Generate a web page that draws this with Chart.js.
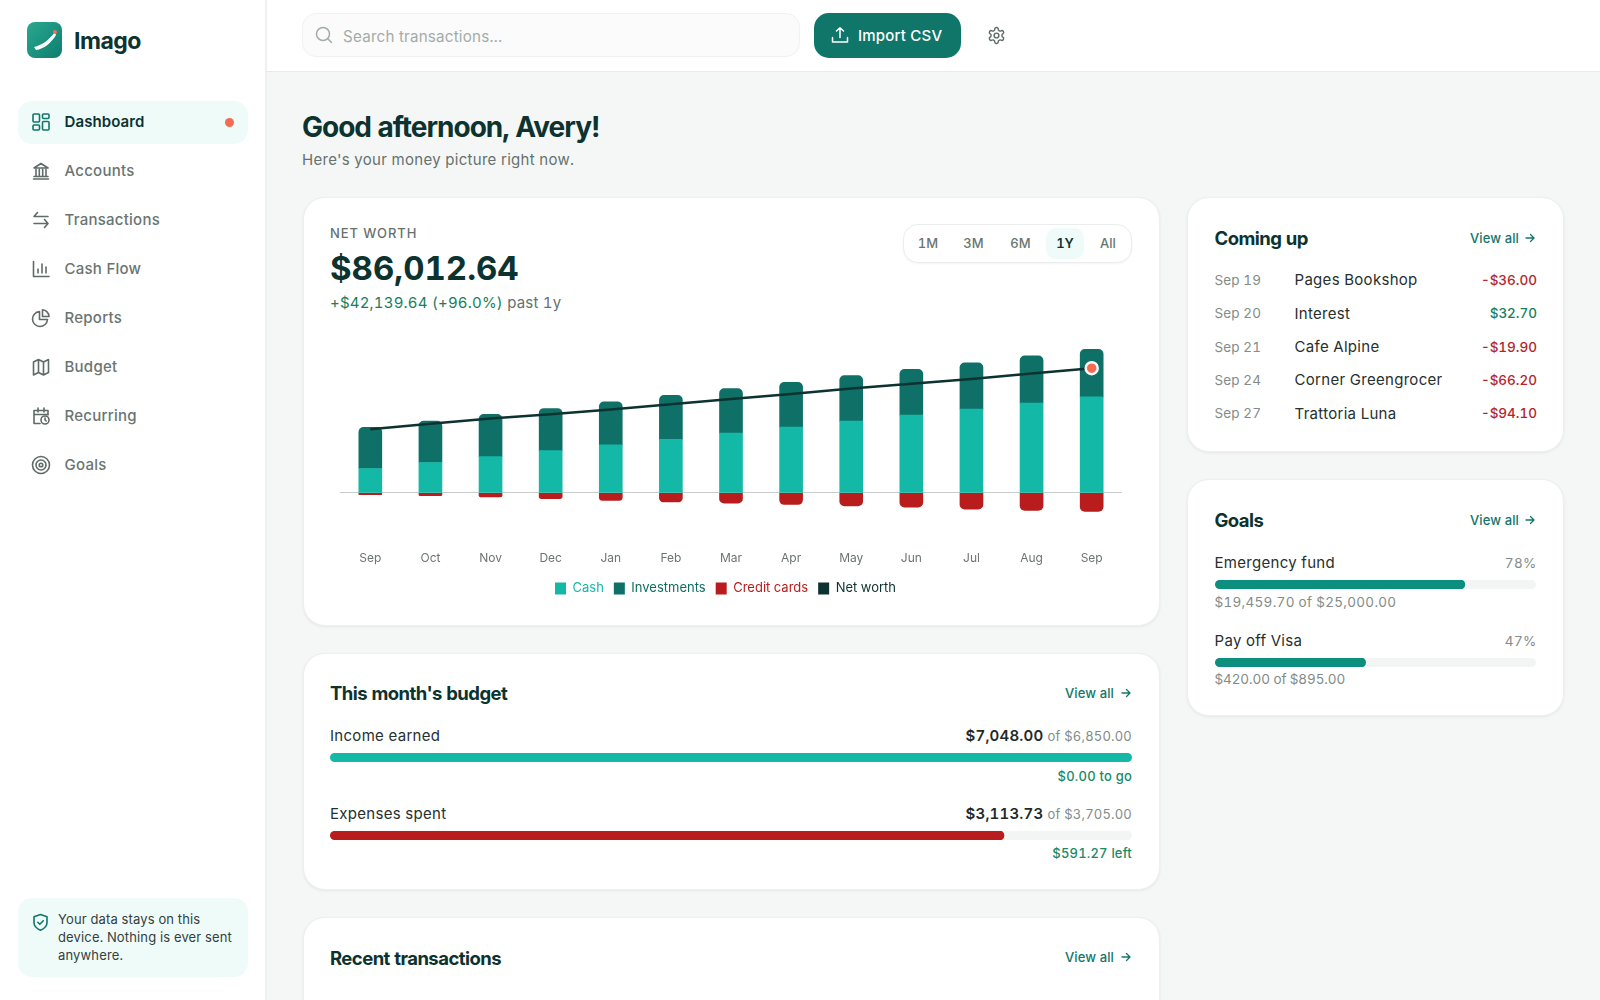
<!DOCTYPE html>
<html>
<head>
<meta charset="utf-8">
<title>Imago</title>
<script src="https://cdn.jsdelivr.net/npm/chart.js@4"></script>
<style>
  * { box-sizing: border-box; margin: 0; padding: 0; }
  html, body { width: 1600px; height: 1000px; overflow: hidden; }
  body { position: relative; background: #f5f7f6; font-family: Inter, sans-serif; font-variant-numeric: tabular-nums; color: #1f2a28; }
  .abs { position: absolute; white-space: nowrap; line-height: 1; }
  .sidebar { position: absolute; left: 0; top: 0; width: 267px; height: 1000px; background: #fff; border-right: 2px solid #eff1f0; }
  .topbar { position: absolute; left: 267px; top: 0; width: 1333px; height: 72px; background: #fff; border-bottom: 1px solid #e7eae8; }
  .card { position: absolute; background: #fff; border: 1px solid #eef0ef; border-radius: 22px; box-shadow: 0 1px 3px rgba(20, 50, 45, .08); }
  .nav { position: absolute; left: 64.5px; font-size: 15px; line-height: 18px; font-weight: 500; color: #6a7572; letter-spacing: .25px; }
  .nav-icon { position: absolute; left: 31px; width: 20px; height: 20px; fill: none; stroke: #5f6b68; stroke-width: 1.6; stroke-linecap: round; stroke-linejoin: round; }
  .title { position: absolute; font-size: 18.5px; line-height: 22px; font-weight: 700; color: #0c3330; letter-spacing: -.55px; white-space: nowrap; }
  .link { position: absolute; font-size: 13px; line-height: 16px; font-weight: 500; color: #12766a; white-space: nowrap; letter-spacing: .1px; }
  .row-date { position: absolute; left: 1214.5px; font-size: 13.5px; line-height: 16px; color: #838c89; letter-spacing: .1px; }
  .row-name { position: absolute; left: 1294.5px; font-size: 15px; line-height: 18px; color: #26302e; letter-spacing: .3px; white-space: nowrap; }
  .row-amt { position: absolute; right: 63px; font-size: 13.5px; line-height: 16px; font-weight: 500; letter-spacing: 0; }
  .neg { color: #b3262b; }
  .pos { color: #16805c; }
  .bar-track { position: absolute; background: #f3f5f4; border-radius: 5px; }
  .label { position: absolute; font-size: 15px; line-height: 18px; color: #26302e; letter-spacing: .3px; white-space: nowrap; }
  .muted { position: absolute; font-size: 13.5px; line-height: 16px; color: #838c89; letter-spacing: .3px; white-space: nowrap; }
  .green { position: absolute; right: 468px; font-size: 13px; line-height: 16px; font-weight: 500; color: #1a8a66; letter-spacing: .2px; white-space: nowrap; }
  .range { position: absolute; top: 235px; font-size: 13px; line-height: 16px; font-weight: 500; color: #6a7572; transform: translateX(-50%); }
</style>
</head>
<body>

<div class="sidebar"></div>
<div class="topbar"></div>

<!-- logo -->
<svg class="abs" style="left:27px;top:22px" width="35" height="36" viewBox="0 0 35 36">
  <defs><linearGradient id="logoFill" x1="0" y1="0" x2="1" y2="1"><stop offset="0" stop-color="#2aa98f"/><stop offset="1" stop-color="#0d7d70"/></linearGradient></defs>
  <rect width="35" height="36" rx="8" fill="url(#logoFill)"/>
  <path d="M7 25 C15 23 21 19 28 10 L29 13 C24 21 17 27 9 28 Z" fill="#fff"/>
  <circle cx="28" cy="10" r="2" fill="#f0705a"/>
</svg>
<div class="abs" style="left:74px;top:30px;font-size:23px;font-weight:700;color:#0c3330;letter-spacing:-.5px">Imago</div>

<!-- nav -->
<div class="abs" style="left:18px;top:101px;width:230px;height:43px;background:#effbf9;border-radius:14px"></div>
<div class="abs" style="left:225px;top:117.5px;width:9px;height:9px;background:#f76a52;border-radius:50%"></div>

<svg class="nav-icon" style="top:112px;stroke:#12766a" viewBox="0 0 20 20"><rect x="2" y="2" width="6.5" height="8" rx="1"/><rect x="11.5" y="2" width="6.5" height="4.5" rx="1"/><rect x="2" y="13" width="6.5" height="5" rx="1"/><rect x="11.5" y="9.5" width="6.5" height="8.5" rx="1"/></svg>
<div class="nav" style="top:113px;color:#0c3330;font-weight:600;letter-spacing:.1px">Dashboard</div>

<svg class="nav-icon" style="top:161px" viewBox="0 0 20 20"><path d="M2.5 18h15M3 15.5h14M5 8.5v7M8.3 8.5v7M11.7 8.5v7M15 8.5v7M3 7l7-4.5L17 7z"/></svg>
<div class="nav" style="top:162px">Accounts</div>

<svg class="nav-icon" style="top:210px" viewBox="0 0 20 20"><path d="M3 6.5h14M6.5 2.5L3 6.5M3 13.5h14M13.5 9.5l3.5 4-3.5 4"/></svg>
<div class="nav" style="top:211px">Transactions</div>

<svg class="nav-icon" style="top:259px" viewBox="0 0 20 20"><path d="M2.5 2.5V17.5H18M7 14v-4M11 14V5M15 14V8"/></svg>
<div class="nav" style="top:260px">Cash Flow</div>

<svg class="nav-icon" style="top:308px" viewBox="0 0 20 20"><path d="M8.5 3.5a7.5 7.5 0 1 0 8 8H8.5z"/><path d="M11.5 1.8a7 7 0 0 1 6.5 6.7h-6.5z"/></svg>
<div class="nav" style="top:309px">Reports</div>

<svg class="nav-icon" style="top:357px" viewBox="0 0 20 20"><path d="M2.5 5l5-2.5 5 2.5 5-2.5v13l-5 2.5-5-2.5-5 2.5zM7.5 2.5v13M12.5 5v13"/></svg>
<div class="nav" style="top:358px">Budget</div>

<svg class="nav-icon" style="top:406px" viewBox="0 0 20 20"><path d="M9 17.5H3V4.5h14V9M3 8.5h14M7 2v4M13 2v4"/><circle cx="14" cy="14" r="4"/><path d="M14 12v2l1.2 1"/></svg>
<div class="nav" style="top:407px">Recurring</div>

<svg class="nav-icon" style="top:455px" viewBox="0 0 20 20"><circle cx="10" cy="10" r="8.5"/><circle cx="10" cy="10" r="5"/><circle cx="10" cy="10" r="1.8"/></svg>
<div class="nav" style="top:456px">Goals</div>

<!-- privacy note -->
<div class="abs" style="left:18px;top:898px;width:230px;height:79px;background:#effbf9;border-radius:14px"></div>
<svg class="abs" style="left:32px;top:913px" width="17" height="19" viewBox="0 0 17 19" fill="none" stroke="#12766a" stroke-width="1.6" stroke-linecap="round" stroke-linejoin="round"><path d="M8.5 1.5l6.5 2.3v6c0 3.5-3 6-6.5 7.5C5 15.8 2 13.3 2 9.8v-6z"/><path d="M5.8 9.3l2 2 3.5-3.5"/></svg>
<div class="abs" style="left:58px;top:911px;font-size:13px;line-height:17.8px;color:#33413e;letter-spacing:.15px">Your data stays on this<br>device. Nothing is ever sent<br>anywhere.</div>

<!-- top bar -->
<div class="abs" style="left:302px;top:13px;width:498px;height:44px;background:#fafbfa;border:1px solid #f0f2f1;border-radius:14px"></div>
<svg class="abs" style="left:315px;top:26px" width="18" height="18" viewBox="0 0 18 18" fill="none" stroke="#a4acaa" stroke-width="1.5" stroke-linecap="round"><circle cx="8" cy="8" r="6.5"/><path d="M13 13l3.5 3.5"/></svg>
<div class="abs" style="left:343px;top:29px;font-size:15.2px;color:#a4acaa;letter-spacing:.2px">Search transactions...</div>
<div class="abs" style="left:813.5px;top:13px;width:147.5px;height:45px;background:#10766a;border-radius:15px"></div>
<svg class="abs" style="left:831px;top:26px" width="18" height="18" viewBox="0 0 18 18" fill="none" stroke="#fff" stroke-width="1.5" stroke-linecap="round" stroke-linejoin="round"><path d="M9 11.5V2M5.5 5L9 1.8 12.5 5M1.5 11.5v4.5h15v-4.5"/></svg>
<div class="abs" style="left:858px;top:28px;font-size:15px;font-weight:500;color:#fff;letter-spacing:.2px">Import CSV</div>
<svg class="abs" style="left:987px;top:26px" width="19" height="19" viewBox="0 0 24 24" fill="none" stroke="#5f6b68" stroke-width="1.8" stroke-linecap="round" stroke-linejoin="round"><path d="M12.22 2h-.44a2 2 0 0 0-2 2v.18a2 2 0 0 1-1 1.73l-.43.25a2 2 0 0 1-2 0l-.15-.08a2 2 0 0 0-2.73.73l-.22.38a2 2 0 0 0 .73 2.73l.15.1a2 2 0 0 1 1 1.72v.51a2 2 0 0 1-1 1.74l-.15.09a2 2 0 0 0-.73 2.73l.22.38a2 2 0 0 0 2.73.73l.15-.08a2 2 0 0 1 2 0l.43.25a2 2 0 0 1 1 1.73V20a2 2 0 0 0 2 2h.44a2 2 0 0 0 2-2v-.18a2 2 0 0 1 1-1.73l.43-.25a2 2 0 0 1 2 0l.15.08a2 2 0 0 0 2.73-.73l.22-.39a2 2 0 0 0-.73-2.73l-.15-.08a2 2 0 0 1-1-1.74v-.5a2 2 0 0 1 1-1.74l.15-.09a2 2 0 0 0 .73-2.73l-.22-.38a2 2 0 0 0-2.73-.73l-.15.08a2 2 0 0 1-2 0l-.43-.25a2 2 0 0 1-1-1.73V4a2 2 0 0 0-2-2z"/><circle cx="12" cy="12" r="3"/></svg>

<!-- greeting -->
<div class="abs" style="left:302px;top:112px;font-size:28px;line-height:30px;font-weight:700;color:#0c3330;letter-spacing:-1px">Good afternoon, Avery!</div>
<div class="abs" style="left:302px;top:150.5px;font-size:15px;line-height:18px;color:#66716e;letter-spacing:.3px">Here's your money picture right now.</div>

<!-- net worth card -->
<div class="card" style="left:302.5px;top:196.5px;width:857.5px;height:429.5px"></div>
<div class="abs" style="left:330px;top:227px;font-size:13px;font-weight:500;color:#66716e;letter-spacing:.9px">NET WORTH</div>
<div class="abs" style="left:330px;top:252px;font-size:33px;font-weight:700;color:#0c3330;letter-spacing:0">$86,012.64</div>
<div class="abs" style="left:330px;top:295px;font-size:15px;letter-spacing:.2px;color:#16805c">+$42,139.64 (+96.0%) <span style="color:#66716e">past 1y</span></div>

<div class="abs" style="left:903px;top:224px;width:229px;height:39px;background:#fff;border:1px solid #eceeed;border-radius:15px;box-shadow:0 1px 2px rgba(20,50,45,.05)"></div>
<div class="abs" style="left:1046px;top:228px;width:38px;height:31px;background:#effbf9;border-radius:10px"></div>
<div class="range" style="left:928px">1M</div>
<div class="range" style="left:973.5px">3M</div>
<div class="range" style="left:1020.5px">6M</div>
<div class="range" style="left:1065px;color:#0c3330;font-weight:600">1Y</div>
<div class="range" style="left:1108px">All</div>

<canvas id="net-worth-chart" class="abs" style="left:330px;top:330px" width="802" height="275"></canvas>

<!-- budget card -->
<div class="card" style="left:302.5px;top:652.5px;width:857.5px;height:237px"></div>
<div class="title" style="left:330px;top:682px">This month's budget</div>
<div class="link" style="left:1065px;top:685px">View all</div>
<svg class="abs" style="left:1120px;top:687px" width="12" height="12" viewBox="0 0 12 12" fill="none" stroke="#12766a" stroke-width="1.3" stroke-linecap="round" stroke-linejoin="round"><path d="M2 6h8M6.5 2.5L10 6l-3.5 3.5"/></svg>

<div class="label" style="left:330px;top:727px">Income earned</div>
<div class="label" style="right:468px;top:727px;letter-spacing:.2px"><b style="font-weight:600;color:#1f2a28">$7,048.00</b> <span style="font-size:13px;color:#838c89">of $6,850.00</span></div>
<canvas id="income-bar" class="abs bar-track" style="left:330px;top:753px" width="802" height="9"></canvas>
<div class="green" style="top:767.5px">$0.00 to go</div>

<div class="label" style="left:330px;top:805px">Expenses spent</div>
<div class="label" style="right:468px;top:805px;letter-spacing:.2px"><b style="font-weight:600;color:#1f2a28">$3,113.73</b> <span style="font-size:13px;color:#838c89">of $3,705.00</span></div>
<canvas id="expense-bar" class="abs bar-track" style="left:330px;top:831px" width="802" height="9"></canvas>
<div class="green" style="top:845px">$591.27 left</div>

<!-- recent transactions card -->
<div class="card" style="left:302.5px;top:916.5px;width:857.5px;height:120px"></div>
<div class="title" style="left:330px;top:947px">Recent transactions</div>
<div class="link" style="left:1065px;top:949px">View all</div>
<svg class="abs" style="left:1120px;top:951px" width="12" height="12" viewBox="0 0 12 12" fill="none" stroke="#12766a" stroke-width="1.3" stroke-linecap="round" stroke-linejoin="round"><path d="M2 6h8M6.5 2.5L10 6l-3.5 3.5"/></svg>

<!-- coming up card -->
<div class="card" style="left:1186.5px;top:196.5px;width:377.5px;height:255.5px"></div>
<div class="title" style="left:1214.5px;top:227px">Coming up</div>
<div class="link" style="left:1470px;top:229.5px">View all</div>
<svg class="abs" style="left:1524px;top:231.5px" width="12" height="12" viewBox="0 0 12 12" fill="none" stroke="#12766a" stroke-width="1.3" stroke-linecap="round" stroke-linejoin="round"><path d="M2 6h8M6.5 2.5L10 6l-3.5 3.5"/></svg>

<div class="row-date" style="top:272px">Sep 19</div><div class="row-name" style="top:271px">Pages Bookshop</div><div class="row-amt neg" style="top:272px">-$36.00</div>
<div class="row-date" style="top:305px">Sep 20</div><div class="row-name" style="top:304.5px">Interest</div><div class="row-amt pos" style="top:305px">$32.70</div>
<div class="row-date" style="top:338.5px">Sep 21</div><div class="row-name" style="top:337.5px">Cafe Alpine</div><div class="row-amt neg" style="top:338.5px">-$19.90</div>
<div class="row-date" style="top:372px">Sep 24</div><div class="row-name" style="top:371px">Corner Greengrocer</div><div class="row-amt neg" style="top:372px">-$66.20</div>
<div class="row-date" style="top:405px">Sep 27</div><div class="row-name" style="top:404.5px">Trattoria Luna</div><div class="row-amt neg" style="top:405px">-$94.10</div>

<!-- goals card -->
<div class="card" style="left:1186.5px;top:479px;width:377.5px;height:237px"></div>
<div class="title" style="left:1214.5px;top:509px">Goals</div>
<div class="link" style="left:1470px;top:512px">View all</div>
<svg class="abs" style="left:1524px;top:514px" width="12" height="12" viewBox="0 0 12 12" fill="none" stroke="#12766a" stroke-width="1.3" stroke-linecap="round" stroke-linejoin="round"><path d="M2 6h8M6.5 2.5L10 6l-3.5 3.5"/></svg>

<div class="label" style="left:1214.5px;top:553.5px">Emergency fund</div>
<div class="muted" style="right:63.5px;top:555px">78%</div>
<canvas id="goal-bar-0" class="abs bar-track" style="left:1215px;top:580px" width="321" height="9"></canvas>
<div class="muted" style="left:1214.5px;top:594px">$19,459.70 of $25,000.00</div>

<div class="label" style="left:1214.5px;top:631.5px">Pay off Visa</div>
<div class="muted" style="right:63.5px;top:633px">47%</div>
<canvas id="goal-bar-1" class="abs bar-track" style="left:1215px;top:658px" width="321" height="9"></canvas>
<div class="muted" style="left:1214.5px;top:671px;letter-spacing:-.1px">$420.00 of $895.00</div>

<script>
// Chart data
const months = ['Sep', 'Oct', 'Nov', 'Dec', 'Jan', 'Feb', 'Mar', 'Apr', 'May', 'Jun', 'Jul', 'Aug', 'Sep'];
const cashValues = [16850, 20960, 25070, 29180, 33090, 36990, 41300, 45420, 49530, 53640, 57750, 61860, 66170];
const investmentValues = [28360, 28560, 29040, 29040, 29660, 30350, 30620, 30830, 31300, 31510, 31990, 32670, 32880];
const creditValues = [-1160, -1850, -2740, -3900, -5270, -6160, -7120, -8010, -8900, -9860, -11230, -12120, -12810];
const netWorthValues = [43873, 47670, 51370, 54320, 57480, 61180, 64800, 68240, 71930, 75290, 78510, 82410, 86012.64];

const budgetSpent = [7048, 3113.73];
const budgetLimits = [6850, 3705];
const goalSaved = [19459.70, 420];
const goalTargets = [25000, 895];

// Colours
const cashColor = '#14b8a6';
const investmentColor = '#0f7068';
const creditColor = '#b91c1c';
const netWorthColor = '#0c3330';

Chart.defaults.font.family = 'Inter, sans-serif';
Chart.defaults.animation = false;

const lastPoint = netWorthValues.length - 1;

// Legend is centred a little left of the plot in the reference
const shiftLegend = {
  id: 'shiftLegend',
  afterLayout(chart) {
    chart.legend.left -= 12;
  }
};

new Chart(document.getElementById('net-worth-chart'), {
  type: 'bar',
  plugins: [shiftLegend],
  data: {
    labels: months,
    datasets: [
      { label: 'Cash', data: cashValues, backgroundColor: cashColor, barThickness: 23, order: 2 },
      { label: 'Investments', data: investmentValues, backgroundColor: investmentColor, barThickness: 23, order: 2,
        borderRadius: { topLeft: 5, topRight: 5, bottomLeft: 0, bottomRight: 0 }, borderSkipped: false },
      { label: 'Credit cards', data: creditValues, backgroundColor: creditColor, barThickness: 23, order: 2,
        borderRadius: { topLeft: 0, topRight: 0, bottomLeft: 5, bottomRight: 5 }, borderSkipped: false },
      { label: 'Net worth', type: 'line', data: netWorthValues, order: 1,
        borderColor: netWorthColor, backgroundColor: netWorthColor, borderWidth: 2.5, tension: 0,
        pointRadius: netWorthValues.map((v, i) => i === lastPoint ? 6 : 0),
        pointBackgroundColor: '#f76a52', pointBorderColor: '#fff', pointBorderWidth: 2.5 }
    ]
  },
  options: {
    responsive: false,
    layout: { autoPadding: false, padding: { left: 3, right: 2, top: 3.4, bottom: 0 } },
    scales: {
      x: {
        stacked: true,
        grid: { display: false, drawTicks: false },
        border: { display: false },
        ticks: { color: '#6b7572', padding: 29.5, font: { size: 12 }, maxRotation: 0, autoSkip: false },
        // fit() counts the tick padding twice, so pin the height
        afterFit(scale) { scale.height = 50.1; }
      },
      y: {
        stacked: true,
        min: -20000,
        max: 110000,
        border: { display: false },
        ticks: { display: false, stepSize: 10000 },
        grid: { drawTicks: false, color: ctx => ctx.tick.value === 0 ? '#c8ccca' : 'transparent' }
      }
    },
    plugins: {
      tooltip: { enabled: false },
      legend: {
        position: 'bottom',
        labels: {
          boxWidth: 11,
          boxHeight: 12,
          padding: 10,
          font: { size: 13 },
          generateLabels(chart) {
            return chart.data.datasets.map((ds, i) => ({
              text: ds.label,
              fillStyle: ds.backgroundColor,
              strokeStyle: ds.backgroundColor,
              lineWidth: 0,
              fontColor: ds.label === 'Investments' ? '#0f6b63' : ds.backgroundColor,
              datasetIndex: i
            }));
          }
        }
      }
    }
  }
});

// Thin progress bars, one horizontal bar each
function makeProgressBar(canvasId, value, limit, color) {
  new Chart(document.getElementById(canvasId), {
    type: 'bar',
    data: {
      labels: [''],
      datasets: [{
        data: [Math.min(value, limit)],
        backgroundColor: color,
        barPercentage: 1,
        categoryPercentage: 1,
        borderRadius: 5,
        borderSkipped: false
      }]
    },
    options: {
      indexAxis: 'y',
      responsive: false,
      scales: {
        x: { display: false, min: 0, max: limit },
        y: { display: false }
      },
      plugins: { legend: { display: false }, tooltip: { enabled: false } }
    }
  });
}

makeProgressBar('income-bar', budgetSpent[0], budgetLimits[0], cashColor);
makeProgressBar('expense-bar', budgetSpent[1], budgetLimits[1], creditColor);
makeProgressBar('goal-bar-0', goalSaved[0], goalTargets[0], '#0d8f80');
makeProgressBar('goal-bar-1', goalSaved[1], goalTargets[1], '#0d8f80');
</script>
</body>
</html>
